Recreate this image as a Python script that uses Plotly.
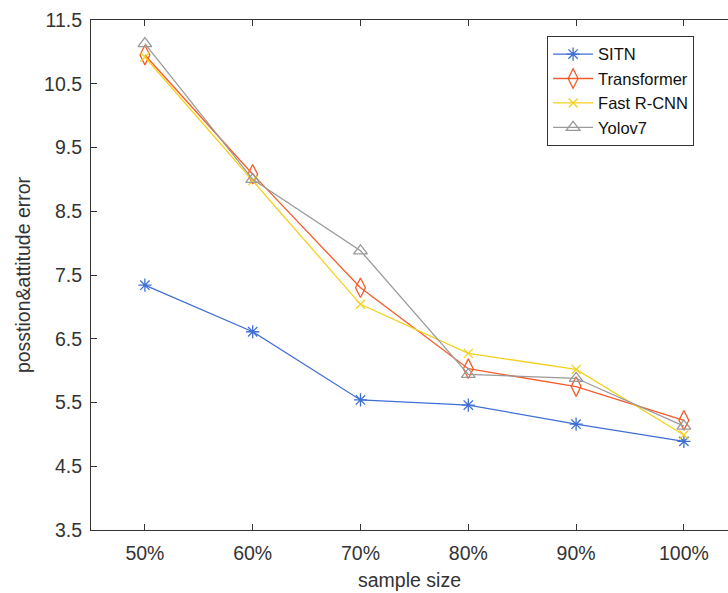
import plotly.graph_objects as go

categories = ["50%", "60%", "70%", "80%", "90%", "100%"]
x_pos = [1, 2, 3, 4, 5, 6]
sitn = [7.34, 6.61, 5.54, 5.46, 5.16, 4.89]
transformer = [10.95, 9.08, 7.30, 6.03, 5.75, 5.22]
fast_rcnn = [10.92, 8.98, 7.04, 6.27, 6.02, 4.99]
yolov7 = [11.13, 9.00, 7.88, 5.94, 5.88, 5.13]
y_ticks = [3.5, 4.5, 5.5, 6.5, 7.5, 8.5, 9.5, 10.5, 11.5]

series = [
    ("SITN", sitn, "#3F6FD5", "asterisk-open", 11),
    ("Transformer", transformer, "#F35C2A", "diamond-tall-open", 14),
    ("Fast R-CNN", fast_rcnn, "#F3D11C", "x-thin-open", 9),
    ("Yolov7", yolov7, "#9A9A9A", "triangle-up-open", 12),
]

fig = go.Figure()
for name, vals, color, sym, size in series:
    fig.add_trace(go.Scatter(
        x=x_pos, y=vals, name=name, mode="lines+markers",
        line=dict(color=color, width=1.3),
        marker=dict(symbol=sym, size=size, color=color, line=dict(color=color, width=1.3)),
    ))

font_family = "Liberation Sans, Arial, sans-serif"
fig.update_layout(
    template="none",
    width=728, height=593,
    margin=dict(l=91, r=0, t=20, b=63, autoexpand=False),
    paper_bgcolor="white", plot_bgcolor="white",
    font=dict(family=font_family, size=19.5, color="#333333"),
    showlegend=True,
    legend=dict(
        x=0.716, y=0.969, xanchor="left", yanchor="top",
        bgcolor="white", bordercolor="#333333", borderwidth=1,
        font=dict(size=16.5, color="#111111"),
        tracegroupgap=0, itemwidth=40,
    ),
    xaxis=dict(
        range=[0.5, 6.409], tickvals=x_pos, ticktext=categories,
        showline=True, linecolor="#333333", linewidth=1.2, mirror="ticks",
        ticks="inside", ticklen=6, tickcolor="#333333",
        showgrid=False, zeroline=False, automargin=False,
        ticklabelstandoff=5,
        title=dict(text="sample size", font=dict(size=19.5), standoff=10),
    ),
    yaxis=dict(
        range=[3.5, 11.5], tickvals=y_ticks,
        ticktext=[str(v) for v in y_ticks],
        showline=True, linecolor="#333333", linewidth=1.2, mirror=False,
        ticks="inside", ticklen=6, tickcolor="#333333",
        showgrid=False, zeroline=False, automargin=False,
        ticklabelstandoff=4,
        title=dict(text="posstion&attitude error", font=dict(size=19.5), standoff=8),
    ),
)

fig.write_html("out.html", config={"displayModeBar": False},
               post_script="document.body.style.margin='0';document.body.style.overflow='hidden';")
